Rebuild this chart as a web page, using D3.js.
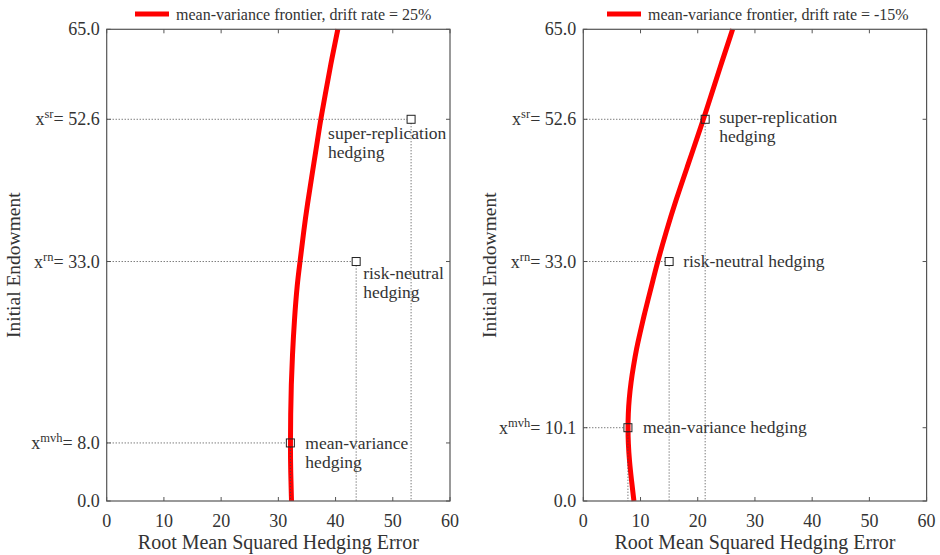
<!DOCTYPE html>
<html>
<head>
<meta charset="utf-8">
<script src="https://cdn.jsdelivr.net/npm/d3@7"></script>
<style>
  body { margin: 0; background: #fff; }
  svg text { font-family: "Liberation Serif", "Times New Roman", serif; fill: #333; }
</style>
</head>
<body>
<div id="chart"></div>
<script>
var w = 940, h = 555;

// frontier: endowment (y) -> RMSE (x)
var endowLeft = [0, 4, 8, 12, 16, 20, 25, 30, 33, 37, 41, 45, 50, 52.6, 56, 60, 65];
var rmseLeft = [32.3, 32.15, 32.1, 32.15, 32.25, 32.45, 32.8, 33.3, 33.8, 34.4, 35.1, 35.9, 36.9, 37.4, 38.2, 39.1, 40.4];

var endowRight = [0, 3, 5.6, 8, 10.1, 12, 14, 16.5, 18.5, 21, 23.1, 25.5, 27.7, 30.5, 33, 36.9, 41.5, 46.1, 52.6, 55.3, 60, 65];
var rmseRight = [8.85, 8.4, 8.05, 7.85, 7.8, 7.85, 8.0, 8.35, 8.75, 9.3, 9.9, 10.6, 11.3, 12.2, 13.0, 14.4, 16.2, 18.2, 21.0, 22.1, 24.0, 26.1];

// hedging strategies
var hedgeNames = ["mvh", "rn", "sr"];
var hedgeEndowLeft = [8.0, 33.0, 52.6];
var hedgeRmseLeft = [32.1, 43.6, 53.2];
var hedgeEndowRight = [10.1, 33.0, 52.6];
var hedgeRmseRight = [7.8, 15.0, 21.3];

var xTicks = [0, 10, 20, 30, 40, 50, 60];
var legendLeft = "mean-variance frontier, drift rate = 25%";
var legendRight = "mean-variance frontier, drift rate = -15%";

var svg = d3.select("#chart").append("svg").attr("width", w).attr("height", h);

function panel(opt) {
  var x = d3.scaleLinear().domain([0, 60]).range([opt.left, opt.left + 343.3]);
  var y = d3.scaleLinear().domain([0, 65]).range([501, 29.3]);
  var g = svg.append("g");

  // y ticks: 0, the three strategies, 65
  var yTicks = [0].concat(opt.hEndow).concat([65]);

  // tick marks inward
  xTicks.forEach(function(t) {
    g.append("line").attr("x1", x(t)).attr("x2", x(t)).attr("y1", y(0)).attr("y2", y(0) - 4).attr("stroke", "#555");
    g.append("line").attr("x1", x(t)).attr("x2", x(t)).attr("y1", y(65)).attr("y2", y(65) + 4).attr("stroke", "#555");
    g.append("text").attr("x", x(t)).attr("y", 527).attr("text-anchor", "middle").style("font-size", "18px").text(t);
  });
  yTicks.forEach(function(t) {
    g.append("line").attr("x1", x(0)).attr("x2", x(0) + 4).attr("y1", y(t)).attr("y2", y(t)).attr("stroke", "#555");
    g.append("line").attr("x1", x(60)).attr("x2", x(60) - 4).attr("y1", y(t)).attr("y2", y(t)).attr("stroke", "#555");
  });

  // y tick labels, with superscripts for the strategies
  g.append("text").attr("x", x(0) - 7).attr("y", y(0) + 6).attr("text-anchor", "end").style("font-size", "18px").text("0.0");
  g.append("text").attr("x", x(0) - 7).attr("y", y(65) + 6).attr("text-anchor", "end").style("font-size", "18px").text("65.0");
  hedgeNames.forEach(function(n, i) {
    var t = g.append("text").attr("x", x(0) - 7).attr("y", y(opt.hEndow[i]) + 6).attr("text-anchor", "end").style("font-size", "18px");
    t.append("tspan").text("x");
    t.append("tspan").attr("dy", -7).style("font-size", "12.5px").text(n);
    t.append("tspan").attr("dy", 7).text("= " + opt.hEndow[i].toFixed(1));
  });

  // frontier
  var pts = opt.endow.map(function(e, i) { return [opt.rmse[i], e]; });
  var line = d3.line().x(function(d) { return x(d[0]); }).y(function(d) { return y(d[1]); }).curve(d3.curveBasis);
  g.append("path").datum(pts).attr("d", line).attr("fill", "none").attr("stroke", "#ff0000").attr("stroke-width", 5);

  // dotted guides and markers
  hedgeNames.forEach(function(n, i) {
    var px = x(opt.hRmse[i]), py = y(opt.hEndow[i]);
    g.append("line").attr("x1", x(0)).attr("x2", px - 4).attr("y1", py).attr("y2", py)
      .attr("stroke", "#444").attr("stroke-width", 1).attr("stroke-dasharray", "1,2");
    g.append("line").attr("x1", px).attr("x2", px).attr("y1", py + 4).attr("y2", y(0))
      .attr("stroke", "#444").attr("stroke-width", 1).attr("stroke-dasharray", "1,2");
    g.append("rect").attr("x", px - 4).attr("y", py - 4).attr("width", 8).attr("height", 8)
      .attr("fill", "none").attr("stroke", "#222").attr("stroke-width", 1);
    var lab = opt.labels[i];
    lab.lines.forEach(function(s, k) {
      g.append("text").attr("x", px + lab.dx).attr("y", py + lab.dy + k * 19).style("font-size", "17.5px").text(s);
    });
  });

  // frame
  g.append("rect").attr("x", x(0)).attr("y", y(65)).attr("width", x(60) - x(0)).attr("height", y(0) - y(65))
    .attr("fill", "none").attr("stroke", "#555").attr("stroke-width", 1.2);

  // axis titles
  g.append("text").attr("x", (x(0) + x(60)) / 2).attr("y", 549).attr("text-anchor", "middle").style("font-size", "20px")
    .text("Root Mean Squared Hedging Error");
  g.append("text").attr("transform", "translate(" + (x(0) - 87) + "," + (y(32.5)) + ") rotate(-90)")
    .attr("text-anchor", "middle").style("font-size", "19.5px").text("Initial Endowment");

  // legend
  g.append("line").attr("x1", opt.legendX).attr("x2", opt.legendX + 34).attr("y1", 14).attr("y2", 14)
    .attr("stroke", "#ff0000").attr("stroke-width", 5);
  g.append("text").attr("x", opt.legendX + 41).attr("y", 20).style("font-size", "16px").text(opt.legend);
}

panel({
  left: 106.7, endow: endowLeft, rmse: rmseLeft, hEndow: hedgeEndowLeft, hRmse: hedgeRmseLeft,
  legend: legendLeft, legendX: 135,
  labels: [
    { dx: 15, dy: 6, lines: ["mean-variance", "hedging"] },
    { dx: 7, dy: 17, lines: ["risk-neutral", "hedging"] },
    { dx: -83, dy: 20, lines: ["super-replication", "hedging"] }
  ]
});

panel({
  left: 583.3, endow: endowRight, rmse: rmseRight, hEndow: hedgeEndowRight, hRmse: hedgeRmseRight,
  legend: legendRight, legendX: 607,
  labels: [
    { dx: 15, dy: 5, lines: ["mean-variance hedging"] },
    { dx: 14, dy: 5, lines: ["risk-neutral hedging"] },
    { dx: 14, dy: 4, lines: ["super-replication", "hedging"] }
  ]
});
</script>
</body>
</html>
